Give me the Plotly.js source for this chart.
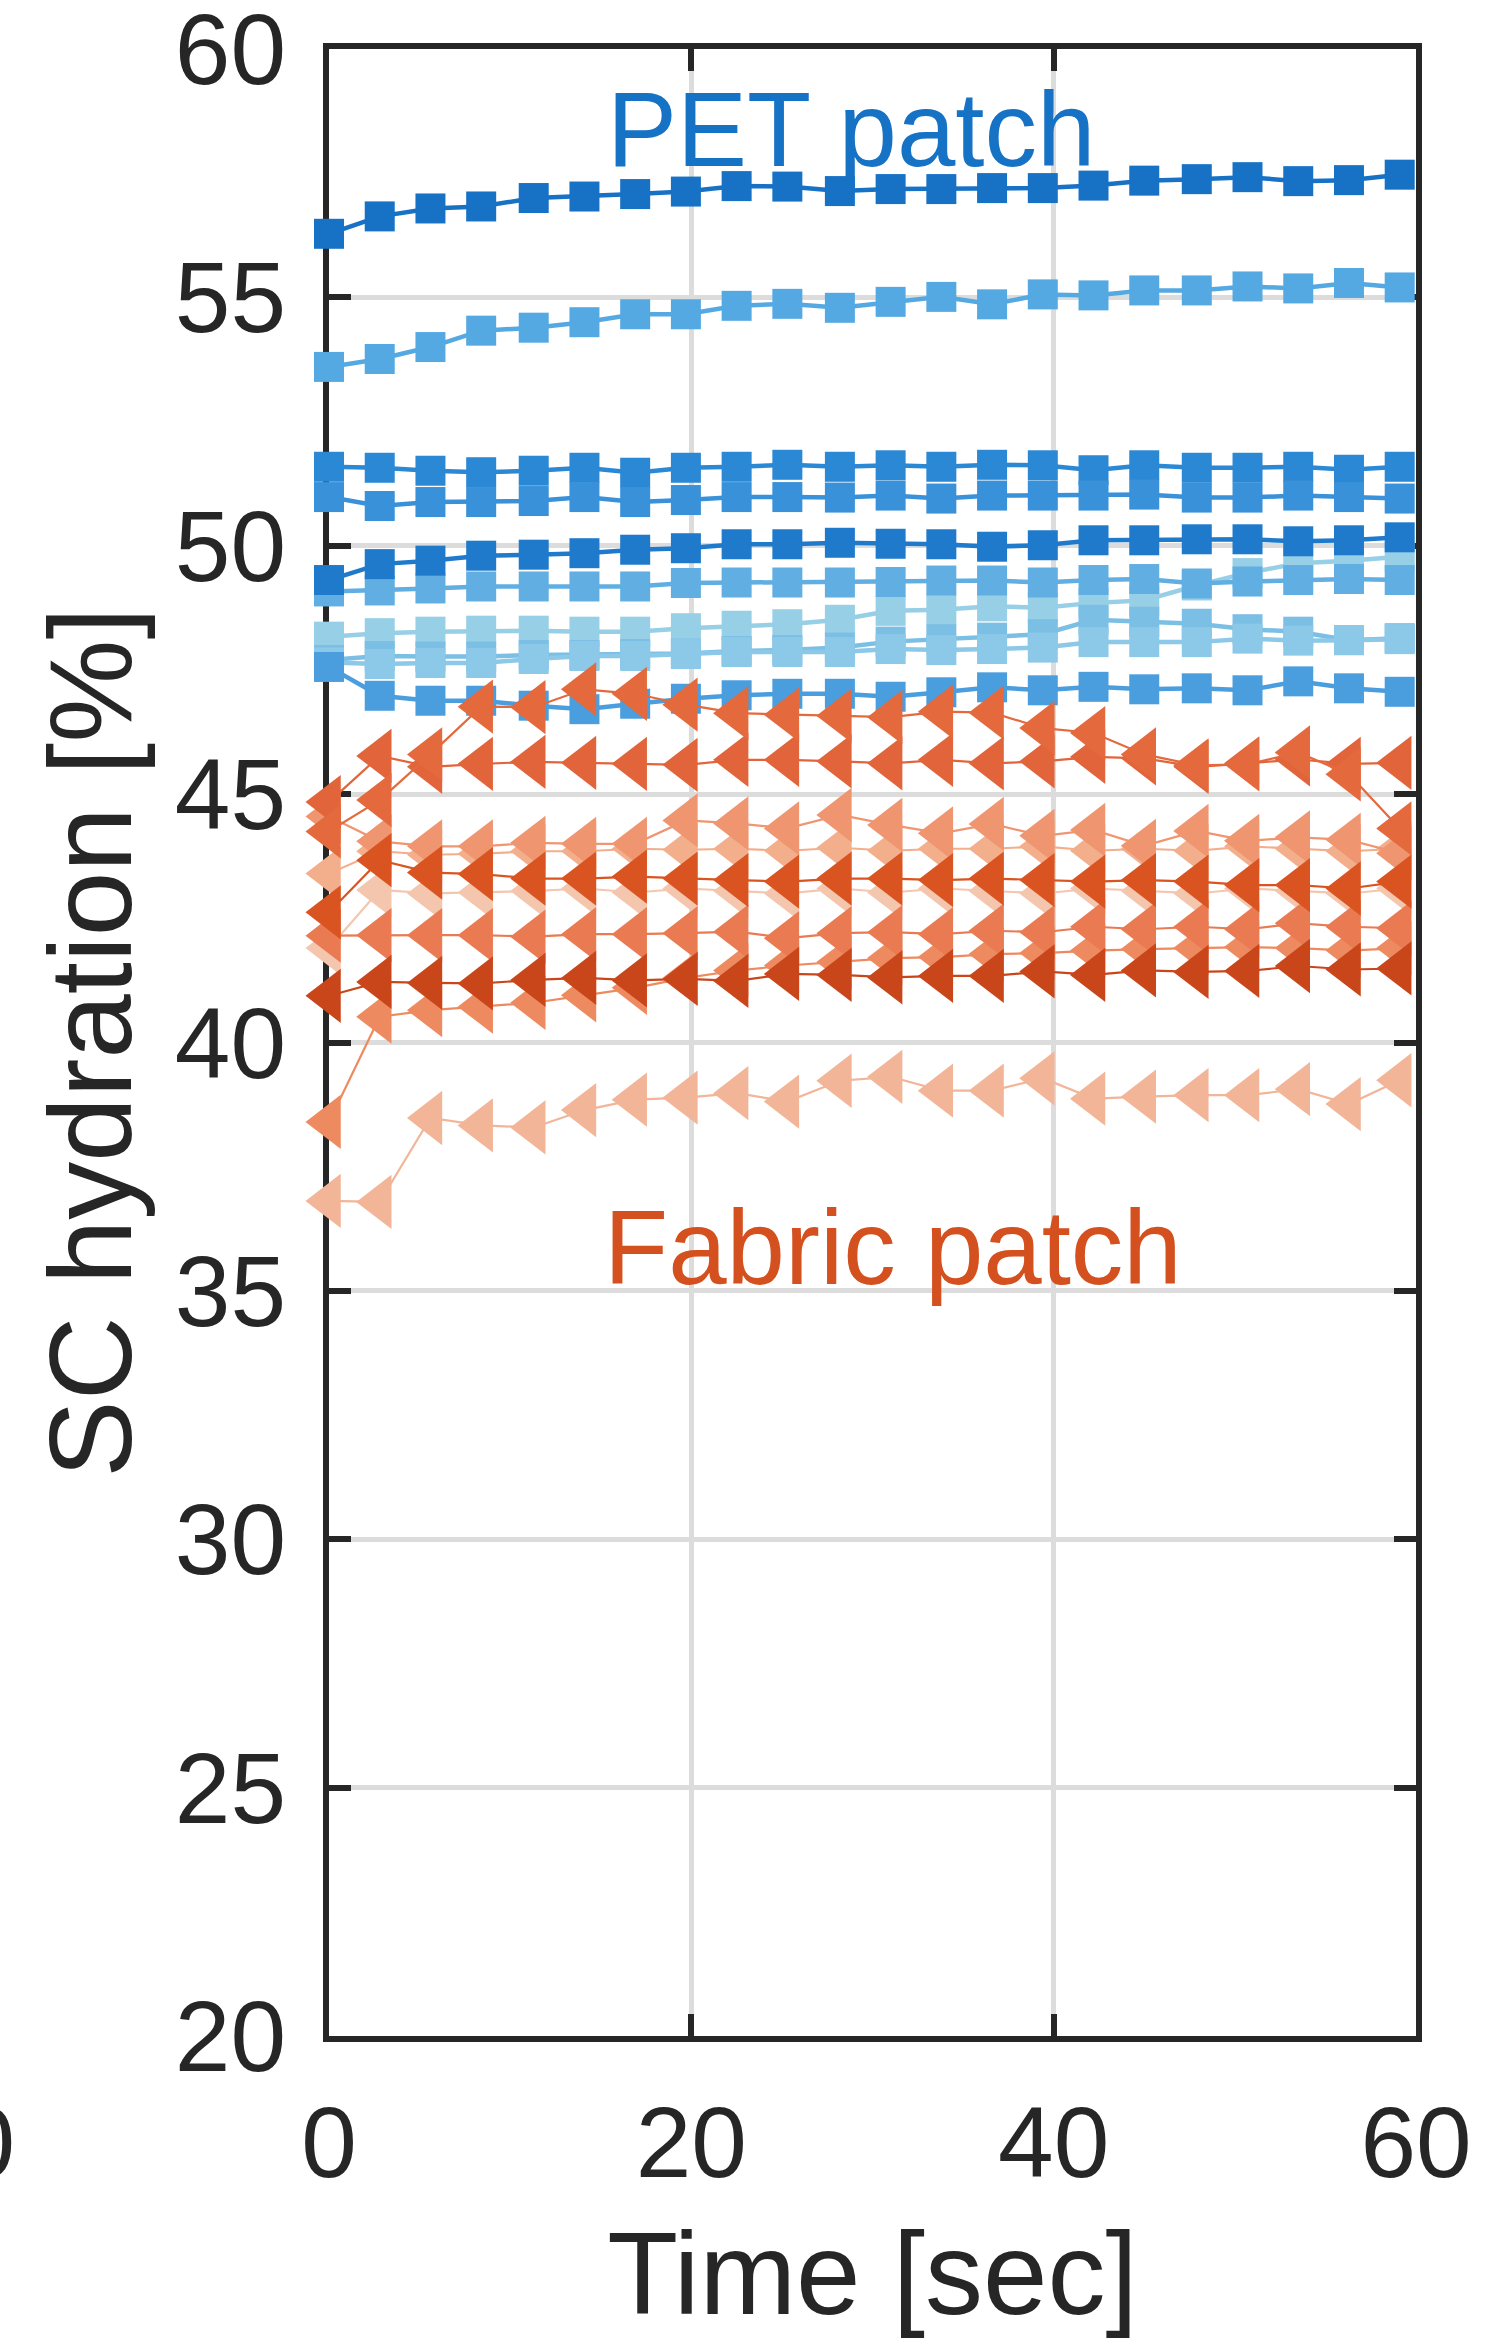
<!DOCTYPE html>
<html><head><meta charset="utf-8">
<script src="https://cdn.plot.ly/plotly-3.0.1.min.js"></script>
<style>html,body{margin:0;padding:0;background:#fff}</style>
</head><body>
<div id="chart" style="width:1486px;height:2342px"></div>
<script>
// ---- data ----
const times = [0, 2.8, 5.6, 8.4, 11.3, 14.1, 16.9, 19.7, 22.5, 25.3, 28.2, 31.0, 33.8, 36.6, 39.4, 42.2, 45.0, 47.9, 50.7, 53.5, 56.3, 59.1];

// PET patch (square markers)
const petA = [56.28, 56.63, 56.79, 56.83, 57.00, 57.03, 57.08, 57.13, 57.24, 57.23, 57.14, 57.18, 57.18, 57.20, 57.20, 57.25, 57.35, 57.38, 57.42, 57.34, 57.36, 57.47];
const petB = [53.60, 53.76, 54.00, 54.33, 54.39, 54.50, 54.66, 54.66, 54.83, 54.87, 54.79, 54.91, 55.01, 54.86, 55.06, 55.04, 55.14, 55.14, 55.22, 55.18, 55.29, 55.20];
const petC = [51.59, 51.57, 51.51, 51.48, 51.51, 51.57, 51.47, 51.57, 51.59, 51.63, 51.59, 51.62, 51.59, 51.63, 51.62, 51.52, 51.62, 51.57, 51.57, 51.59, 51.53, 51.59];
const petD = [50.98, 50.80, 50.88, 50.88, 50.90, 50.98, 50.88, 50.92, 50.98, 50.98, 50.97, 51.01, 50.95, 51.01, 51.01, 51.01, 51.03, 50.97, 50.97, 51.01, 50.98, 50.95];
const petE = [49.31, 49.63, 49.70, 49.80, 49.82, 49.85, 49.92, 49.95, 50.03, 50.03, 50.06, 50.04, 50.03, 49.98, 50.01, 50.11, 50.11, 50.13, 50.13, 50.09, 50.11, 50.17];
const petF = [49.08, 49.10, 49.14, 49.18, 49.18, 49.18, 49.18, 49.25, 49.26, 49.26, 49.26, 49.27, 49.30, 49.30, 49.26, 49.31, 49.33, 49.24, 49.28, 49.31, 49.33, 49.31];
const petG = [48.17, 48.24, 48.27, 48.29, 48.29, 48.27, 48.27, 48.34, 48.39, 48.42, 48.51, 48.69, 48.71, 48.78, 48.75, 48.85, 48.90, 49.20, 49.45, 49.65, 49.70, 49.78];
const petH = [47.70, 47.78, 47.77, 47.77, 47.80, 47.80, 47.82, 47.83, 47.88, 47.90, 47.95, 48.07, 48.12, 48.15, 48.22, 48.51, 48.47, 48.43, 48.32, 48.27, 48.10, 48.14];
const petI = [47.65, 47.62, 47.64, 47.64, 47.72, 47.78, 47.78, 47.82, 47.86, 47.86, 47.86, 47.92, 47.90, 47.92, 47.95, 48.06, 48.06, 48.06, 48.13, 48.09, 48.10, 48.12];
const petJ = [47.56, 46.98, 46.88, 46.88, 46.78, 46.71, 46.82, 46.92, 46.99, 47.02, 47.02, 46.96, 47.05, 47.15, 47.09, 47.16, 47.11, 47.13, 47.09, 47.27, 47.13, 47.06];

// Fabric patch (left-pointing triangle markers)
const fabA = [44.25, 44.88, 45.80, 46.76, 46.75, 47.11, 47.02, 46.80, 46.63, 46.60, 46.58, 46.55, 46.66, 46.64, 46.33, 46.23, 45.80, 45.58, 45.60, 45.84, 45.40, 44.31];
const fabB = [44.84, 45.77, 45.55, 45.61, 45.65, 45.63, 45.61, 45.59, 45.69, 45.69, 45.66, 45.62, 45.69, 45.62, 45.66, 45.75, 45.72, 45.55, 45.62, 45.70, 45.61, 45.63];
const fabC = [44.55, 44.05, 43.95, 43.95, 44.02, 44.00, 44.00, 44.47, 44.41, 44.31, 44.58, 44.38, 44.21, 44.40, 44.16, 44.28, 43.96, 44.26, 44.06, 44.13, 44.08, 43.81];
const fabD = [42.62, 43.67, 43.42, 43.39, 43.30, 43.30, 43.34, 43.30, 43.27, 43.24, 43.30, 43.30, 43.27, 43.30, 43.27, 43.24, 43.27, 43.24, 43.17, 43.17, 43.10, 43.24];
const fabE = [42.15, 42.16, 42.16, 42.16, 42.13, 42.18, 42.18, 42.20, 42.23, 42.10, 42.20, 42.22, 42.18, 42.25, 42.22, 42.33, 42.28, 42.33, 42.28, 42.40, 42.33, 42.30];
const fabF = [40.94, 41.22, 41.20, 41.19, 41.26, 41.30, 41.25, 41.28, 41.24, 41.38, 41.36, 41.31, 41.34, 41.34, 41.43, 41.36, 41.45, 41.42, 41.44, 41.54, 41.47, 41.49];
const fabG = [38.40, 40.52, 40.65, 40.72, 40.80, 40.95, 41.10, 41.30, 41.45, 41.55, 41.62, 41.70, 41.72, 41.78, 41.80, 41.85, 41.88, 41.90, 41.92, 41.90, 41.85, 41.90];
const fabH = [36.81, 36.79, 38.48, 38.33, 38.29, 38.64, 38.85, 38.89, 38.98, 38.81, 39.23, 39.31, 39.03, 39.03, 39.28, 38.87, 38.91, 38.94, 38.94, 39.06, 38.76, 39.24];
const fabI = [43.40, 43.85, 43.78, 43.80, 43.85, 43.85, 43.90, 43.88, 43.90, 43.86, 43.92, 43.86, 43.90, 43.90, 43.95, 43.86, 43.90, 43.86, 43.95, 43.90, 43.85, 43.90];
const fabJ = [41.90, 43.07, 43.00, 43.02, 43.05, 43.10, 43.02, 43.10, 43.05, 43.00, 43.10, 43.02, 43.10, 43.05, 43.00, 43.10, 43.05, 43.00, 43.10, 43.05, 43.00, 43.10];

const xTicks = [0, 20, 40, 60];
const yTicks = [20, 25, 30, 35, 40, 45, 50, 55, 60];
const labelPET = 'PET patch';
const labelFabric = 'Fabric patch';
const xTitle = 'Time [sec]';
const yTitle = 'SC hydration [%]\u00A0';

// ---- styles ----
const FONT = '"Liberation Sans", Arial, Helvetica, sans-serif';
const INK = '#262626';

// drawing order: first = bottom
const petStyle = [
  [petA, '#1772C6'], [petB, '#55A9E2'], [petC, '#2B88D5'], [petD, '#3891D9'],
  [petG, '#96CFE6'], [petH, '#7CBFE5'], [petI, '#8CC8E8'], [petF, '#60AEE2'],
  [petE, '#1F7ACC'], [petJ, '#4A9EDE']
];
const fabStyle = [
  [fabI, '#F3AE8C'], [fabJ, '#F5C6AE'], [fabH, '#F2B597'], [fabG, '#EE8A60'],
  [fabE, '#E97A52'], [fabC, '#EF9570'], [fabB, '#E2643A'], [fabA, '#E4693C'],
  [fabD, '#D95421'], [fabF, '#C9461A']
];

const traces = [];
petStyle.forEach(([ys, c]) => traces.push({
  type: 'scatter', mode: 'lines+markers', x: times, y: ys, cliponaxis: false,
  line: {color: c, width: 4.5},
  marker: {symbol: 'square', size: 30, color: c, line: {width: 0}},
  hoverinfo: 'skip', showlegend: false
}));
fabStyle.forEach(([ys, c]) => traces.push({
  type: 'scatter', mode: 'lines+markers', x: times, y: ys, cliponaxis: false,
  line: {color: c, width: 2.2},
  marker: {symbol: 'triangle-left', size: 47, color: c, line: {width: 0}},
  hoverinfo: 'skip', showlegend: false
}));

const axisCommon = {
  showline: true, linewidth: 6, linecolor: INK, mirror: 'ticks',
  ticks: 'inside', ticklen: 22, tickwidth: 6, tickcolor: INK,
  showgrid: true, gridcolor: '#DCDCDC', gridwidth: 5, zeroline: false,
  tickfont: {family: FONT, size: 100, color: INK},
  ticklabeloverflow: 'allow',
  layer: 'below traces', fixedrange: true
};

const layout = {
  width: 1486, height: 2342,
  margin: {l: 329, r: 70, t: 49, b: 306, pad: 0},
  paper_bgcolor: '#ffffff', plot_bgcolor: '#ffffff',
  font: {family: FONT, color: INK},
  showlegend: false,
  xaxis: Object.assign({}, axisCommon, {
    range: [0, 60], tickmode: 'array', tickvals: xTicks, ticktext: xTicks.map(String),
    ticklabelstandoff: 15,
    title: {text: xTitle, font: {family: FONT, size: 116, color: INK}, standoff: 38}
  }),
  yaxis: Object.assign({}, axisCommon, {
    range: [20, 60], tickmode: 'array', tickvals: yTicks, ticktext: yTicks.map(String),
    ticklabelstandoff: 17,
    title: {text: yTitle, font: {family: FONT, size: 116, color: INK}, standoff: 6}
  }),
  annotations: [
    {xref: 'x', yref: 'y', x: 28.8, y: 58.37, text: labelPET, showarrow: false,
     xanchor: 'center', yanchor: 'middle', font: {family: FONT, size: 105, color: '#1672C4'}},
    {xref: 'x', yref: 'y', x: 31.15, y: 35.88, text: labelFabric, showarrow: false,
     xanchor: 'center', yanchor: 'middle', font: {family: FONT, size: 105, color: '#D4501E'}},
    {xref: 'paper', yref: 'paper', x: -0.287, y: -0.0535, text: '60', showarrow: false,
     xanchor: 'right', yanchor: 'middle', font: {family: FONT, size: 100, color: INK}}
  ]
};

Plotly.newPlot('chart', traces, layout, {staticPlot: true, displayModeBar: false});
</script>
</body></html>
